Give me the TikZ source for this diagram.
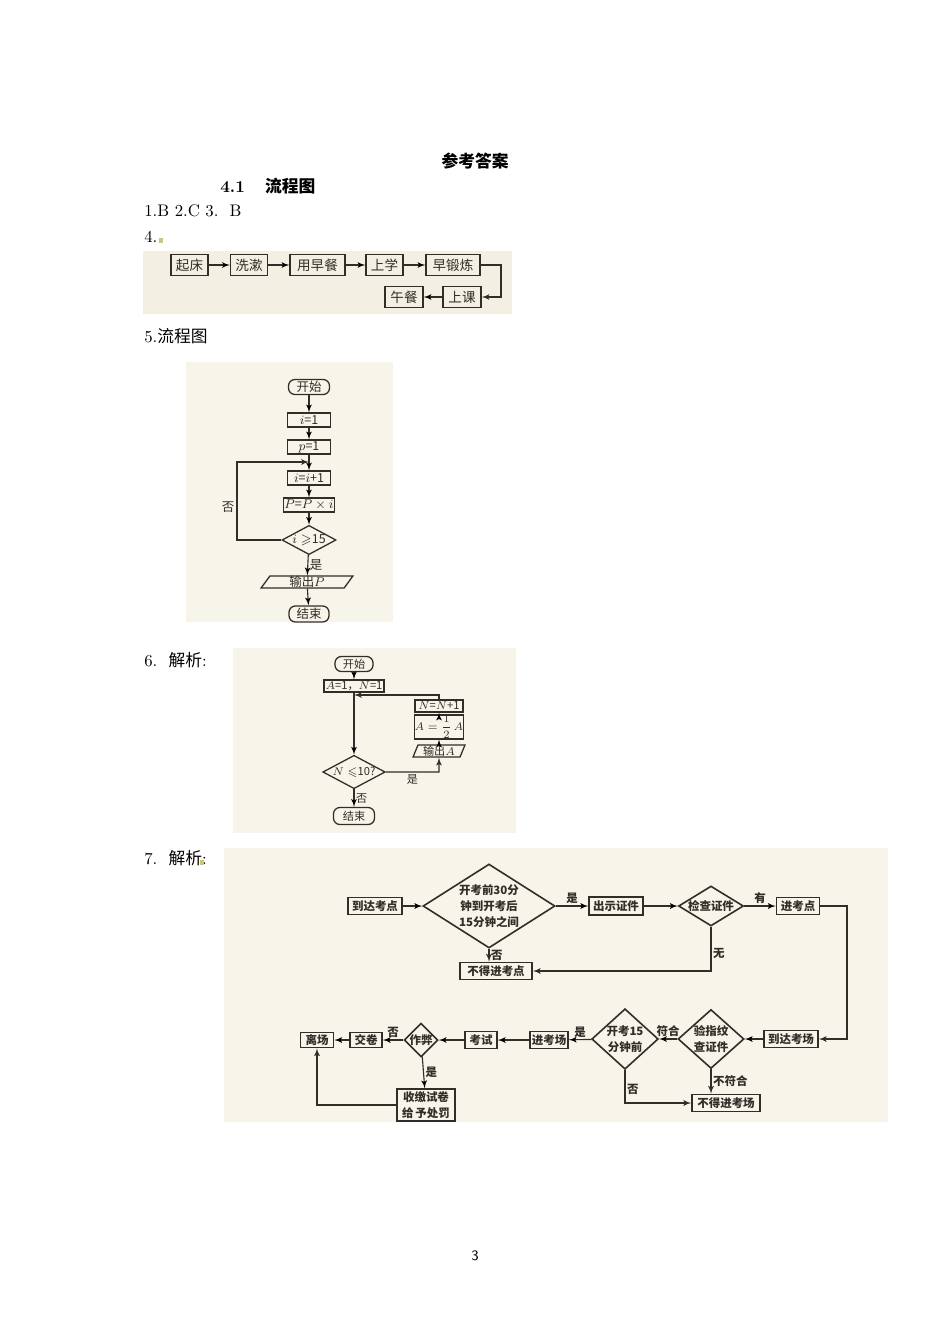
\documentclass[tikz,border=0pt]{standalone}
\usepackage{amssymb}
\usepackage{fontspec}
\newfontfamily\cjk{Noto Sans CJK SC}
\usetikzlibrary{shapes.geometric,arrows}
\newdimen\pu \pu=0.6268pt
\definecolor{scan}{RGB}{247,244,233}
\definecolor{scandark}{RGB}{243,239,227}
\definecolor{ink}{RGB}{50,45,40}
\definecolor{hilite}{RGB}{205,200,110}
\newcommand\ffour{\cjk\fontsize{8.5}{10}\selectfont}
\newcommand\ffive{\cjk\fontsize{7.8}{9}\selectfont}
\newcommand\fsix{\cjk\fontsize{7}{8}\selectfont}
\newcommand\fseven{\cjk\bfseries\fontsize{7.2}{10}\selectfont}
\newcommand\fbody{\fontsize{10.5}{12}\selectfont}

\begin{document}
\begin{tikzpicture}[x=0.6268pt,y=-0.6268pt,>=latex',
  box/.style={draw=ink,line width=0.8pt,inner sep=0pt,text=ink},
  rbox/.style={box,rounded corners=4pt},
  dia/.style={box,diamond},
  io/.style={box,trapezium,trapezium left angle=70,trapezium right angle=110,trapezium stretches=true},
  conn/.style={->,draw=ink,line width=0.7pt},
  lbl/.style={text=ink,inner sep=1pt},
  b4/.style={box,font=\ffour,minimum height=21\pu},
  b5/.style={box,font=\ffive,minimum height=14\pu},
  b6/.style={box,font=\fsix,minimum height=12\pu},
  b7/.style={box,font=\fseven,minimum height=17\pu,line width=1pt},
  d7/.style={dia,font=\fseven,line width=1pt,align=center},
  l7/.style={lbl,font=\fseven},
  txt/.style={anchor=west,inner sep=0pt,font=\fbody}]
  \useasboundingbox (0,0) rectangle (950,1344);
  \fill[white] (0,0) rectangle (950,1344);

  % headings and question numbers
  \node[font=\cjk\bfseries\fbody] (title) at (475,161) {参考答案};
  \node[txt] (sec) at (220,186) {\bfseries 4.1\hspace{1.2em}{\cjk 流程图}};
  \node[txt] (q13) at (144,211) {1.B\ 2.C\ 3.\ \ B};
  \node[txt] (q4) at (144,237) {4.};
  \fill[hilite] (159,238) rectangle (163,243);
  \node[txt] (q5) at (144,336) {5.{\cjk 流程图}};
  \node[txt] (q6) at (144,660) {6.\ \ {\cjk 解析}:};
  \node[txt] (q7) at (144,858) {7.\ \ {\cjk 解析}:};
  \fill[hilite] (200,860) rectangle (204,865);
  \node[font=\sffamily\fontsize{9}{10}\selectfont] (page) at (475,1256) {3};

  % 4
  \fill[scandark] (143,251) rectangle (512,314);
  \node[b4,minimum width=37\pu] (qc) at (189.5,265) {起床};
  \node[b4,minimum width=37\pu] (xs) at (249,265) {洗漱};
  \node[b4,minimum width=55\pu] (yzc) at (317.5,265) {用早餐};
  \node[b4,minimum width=37\pu] (sx) at (384.5,265) {上学};
  \node[b4,minimum width=54\pu] (zdl) at (453,265) {早锻炼};
  \node[b4,minimum width=38\pu] (sk) at (462,297) {上课};
  \node[b4,minimum width=38\pu] (wc) at (404,297) {午餐};
  \coordinate (c4) at (501,265);
  \path[conn]
  (qc) edge (xs)
  (xs) edge (yzc)
  (yzc) edge (sx)
  (sx) edge (zdl)
  (sk) edge (wc)
  ;
  \draw[conn] (zdl.east) -- (c4) |- (sk.east);

  % 5
  \fill[scan] (186,362) rectangle (393,622);
  \node[rbox,font=\ffive,minimum width=41\pu,minimum height=15\pu] (ks5) at (309,387) {开始};
  \node[b5,minimum width=43\pu] (i1) at (309,420) {$i$=1};
  \node[b5,minimum width=43\pu] (p1) at (309,447) {$p$=1};
  \node[b5,minimum width=43\pu] (ii) at (309,478) {$i$=$i$+1};
  \node[b5,minimum width=51\pu] (pp) at (309,505) {$P$=$P\times i$};
  \node[dia,font=\ffive,aspect=1.85,minimum width=48\pu,minimum height=26\pu] (d5) at (309,540) {$i\geqslant$15};
  \node[io,font=\ffive,minimum width=92\pu,minimum height=12\pu] (out5) at (307,582) {输出$P$};
  \node[rbox,font=\ffive,minimum width=40\pu,minimum height=16\pu] (js5) at (309,614) {结束};
  \node[lbl,font=\ffive] (no5) at (228,507) {否};
  \coordinate (back5) at (309,462);
  \coordinate (left5) at (237,540);
  \path[conn]
  (ks5) edge (i1)
  (i1) edge (p1)
  (p1) edge (ii)
  (ii) edge (pp)
  (pp) edge (d5)
  (d5) edge node [lbl,right,font=\ffive] {是} (out5)
  (out5) edge (js5)
  ;
  \draw[conn] (d5.west) -- (left5) |- (back5);

  % 6
  \fill[scan] (233,648) rectangle (516,833);
  \node[rbox,font=\fsix,minimum width=38\pu,minimum height=15\pu] (ks6) at (354,664) {开始};
  \node[b6,minimum width=60\pu] (an) at (354,686) {$A$=1，$N$=1};
  \node[b6,minimum width=48\pu] (nn) at (439,706) {$N$=$N$+1};
  \node[b6,minimum width=45\pu,minimum height=21\pu] (aa) at (439,727) {$\displaystyle A=\frac{1}{2}\,A$};
  \node[io,font=\fsix,minimum width=52\pu,minimum height=12\pu] (out6) at (439,751) {输出$A$};
  \node[dia,font=\fsix,aspect=1.87,minimum width=56\pu,minimum height=30\pu] (d6) at (354,772) {$N\leqslant$10?};
  \node[rbox,font=\fsix,minimum width=41\pu,minimum height=17\pu] (js6) at (354,816) {结束};
  \coordinate (back6) at (354,695);
  \coordinate (right6) at (439,772);
  \path[conn]
  (ks6) edge (an)
  (an) edge (d6)
  (out6) edge (aa)
  (aa) edge (nn)
  (d6) edge node [lbl,right,font=\fsix] {否} (js6)
  ;
  \draw[conn] (nn.north) -- (nn.north |- back6) -- (back6);
  \draw[conn] (d6.east) -- node [lbl,below,font=\fsix] {是} (right6) -- (out6.south);

  % 7
  \fill[scan] (224,848) rectangle (888,1122);
  \node[b7,minimum width=54\pu] (ddkd) at (375,906) {到达考点};
  \node[d7,aspect=1.57,minimum width=132\pu,minimum height=84\pu] (kqs) at (489,906) {开考前30分\\钟到开考后\\15分钟之间};
  \node[b7,minimum width=54\pu,minimum height=18\pu] (cszj) at (616,906) {出示证件};
  \node[d7,aspect=1.6,minimum width=65\pu,minimum height=40\pu] (jczj) at (711,906) {检查证件};
  \node[b7,minimum width=43\pu] (jkd) at (798,906) {进考点};
  \node[b7,minimum width=72\pu] (bdkd) at (496,971) {不得进考点};
  \node[b7,minimum width=54\pu] (ddkc) at (791,1039) {到达考场};
  \node[d7,aspect=1.1,minimum width=66\pu,minimum height=59\pu] (yzw) at (711,1039) {验指纹\\查证件};
  \node[d7,aspect=1.1,minimum width=66\pu,minimum height=60\pu] (kk15) at (625,1039) {开考15\\分钟前};
  \node[b7,minimum width=38\pu] (jkc) at (549,1040) {进考场};
  \node[b7,minimum width=32\pu] (ks) at (481,1040) {考试};
  \node[d7,aspect=1,minimum width=32\pu,minimum height=33\pu] (zb) at (421,1040) {作弊};
  \node[b7,minimum width=32\pu,minimum height=15\pu] (jj) at (366,1040) {交卷};
  \node[b7,minimum width=33\pu,minimum height=15\pu] (lc) at (317,1040) {离场};
  \node[b7,minimum width=58\pu,minimum height=32\pu,align=center] (sj) at (426,1105) {收缴试卷\\给\,予处罚};
  \node[b7,minimum width=68\pu] (bdkc) at (726,1103) {不得进考场};
  \coordinate (r7) at (847,906);
  \path[conn]
  (ddkd) edge (kqs)
  (kqs) edge node [l7,above] {是} (cszj)
  (cszj) edge (jczj)
  (jczj) edge node [l7,above] {有} (jkd)
  (ddkc) edge (yzw)
  (yzw) edge node [l7,above] {符合} (kk15)
  (kk15) edge node [l7,above] {是} (jkc)
  (jkc) edge (ks)
  (ks) edge (zb)
  (zb) edge node [l7,above] {否} (jj)
  (jj) edge (lc)
  (zb) edge node [l7,right] {是} (sj)
  ;
  \draw[conn] (kqs.south) -- node [l7,right] {否} (kqs.south |- bdkd.north);
  \draw[conn] (jczj.south) |- node [l7,right,pos=0.3] {无} (bdkd.east);
  \draw[conn] (jkd.east) -- (r7) |- (ddkc.east);
  \draw[conn] (kk15.south) |- node [l7,right,pos=0.3] {否} (bdkc.west);
  \draw[conn] (yzw.south) -- node [l7,right] {不符合} (yzw.south |- bdkc.north);
  \draw[conn] (sj.west) -| (lc.south);
\end{tikzpicture}
\end{document}
